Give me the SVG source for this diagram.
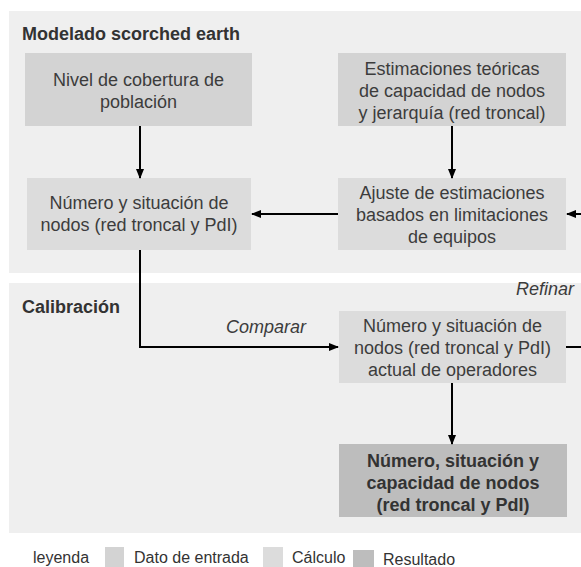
<svg xmlns="http://www.w3.org/2000/svg" width="581" height="567" viewBox="0 0 581 567">
<defs>
<marker id="ah" markerWidth="10" markerHeight="8" refX="9" refY="4" orient="auto" markerUnits="userSpaceOnUse">
<path d="M0,0 L10,4 L0,8 Z" fill="#000"/>
</marker>
<style>
.panel{fill:#efefef}
.in{fill:#d3d3d3}
.calc{fill:#dcdcdc}
.res{fill:#bdbdbd}
.t{font-family:"Liberation Sans",Arial,sans-serif;font-size:18px;fill:#3c3c3c;text-anchor:middle}
.b{font-weight:bold;fill:#333}
.h{font-family:"Liberation Sans",Arial,sans-serif;font-size:18px;font-weight:bold;fill:#333}
.i{font-family:"Liberation Sans",Arial,sans-serif;font-size:18px;font-style:italic;fill:#3c3c3c}
.lg{font-family:"Liberation Sans",Arial,sans-serif;font-size:16px;fill:#333}
.c{fill:none;stroke:#000;stroke-width:2}
</style>
</defs>
<rect width="581" height="567" fill="#fff"/>
<g id="panel-modelado">
<rect class="panel" x="9" y="11" width="572" height="262"/>
<text class="h" x="22" y="40">Modelado scorched earth</text>
</g>
<g id="panel-calibracion">
<rect class="panel" x="9" y="283" width="572" height="250"/>
<text class="h" x="22" y="313">Calibración</text>
</g>
<g id="nivel">
<rect class="in" x="25" y="53" width="227" height="73"/>
<text class="t" x="138.5" y="86">Nivel de cobertura de</text>
<text class="t" x="138.5" y="108">población</text>
</g>
<g id="estimaciones">
<rect class="in" x="338" y="53" width="228" height="73"/>
<text class="t" x="452" y="75">Estimaciones teóricas</text>
<text class="t" x="452" y="97">de capacidad de nodos</text>
<text class="t" x="452" y="119">y jerarquía (red troncal)</text>
</g>
<g id="numero">
<rect class="calc" x="27" y="178" width="224" height="72"/>
<text class="t" x="139" y="209">Número y situación de</text>
<text class="t" x="139" y="231">nodos (red troncal y PdI)</text>
</g>
<g id="ajuste">
<rect class="calc" x="338" y="178" width="228" height="72"/>
<text class="t" x="452" y="199">Ajuste de estimaciones</text>
<text class="t" x="452" y="221">basados en limitaciones</text>
<text class="t" x="452" y="243">de equipos</text>
</g>
<g id="actual">
<rect class="calc" x="339" y="311" width="227" height="72"/>
<text class="t" x="452.5" y="332">Número y situación de</text>
<text class="t" x="452.5" y="354">nodos (red troncal y PdI)</text>
<text class="t" x="452.5" y="376">actual de operadores</text>
</g>
<g id="resultado">
<rect class="res" x="339" y="444" width="228" height="73"/>
<text class="t b" x="453" y="467">Número, situación y</text>
<text class="t b" x="453" y="489">capacidad de nodos</text>
<text class="t b" x="453" y="511">(red troncal y PdI)</text>
</g>
<g id="connectors">
<line class="c" x1="140" y1="126" x2="140" y2="178" marker-end="url(#ah)"/>
<line class="c" x1="452" y1="126" x2="452" y2="178" marker-end="url(#ah)"/>
<line class="c" x1="338" y1="214" x2="252" y2="214" marker-end="url(#ah)"/>
<line class="c" x1="581" y1="214" x2="567" y2="214" marker-end="url(#ah)"/>
<polyline class="c" points="140,250 140,347 338,347" marker-end="url(#ah)"/>
<line class="c" x1="566" y1="347" x2="581" y2="347"/>
<line class="c" x1="452" y1="383" x2="452" y2="444" marker-end="url(#ah)"/>
<text class="i" x="226" y="333">Comparar</text>
<text class="i" x="574" y="295" text-anchor="end">Refinar</text>
</g>
<g id="legend">
<text class="lg" x="33" y="563">leyenda</text>
<rect class="in" x="105" y="547" width="19" height="20"/>
<text class="lg" x="134" y="563">Dato de entrada</text>
<rect class="calc" x="263" y="547" width="20" height="20"/>
<text class="lg" x="292" y="563">Cálculo</text>
<rect class="res" x="353" y="550" width="21" height="17"/>
<text class="lg" x="383" y="565">Resultado</text>
</g>
</svg>
